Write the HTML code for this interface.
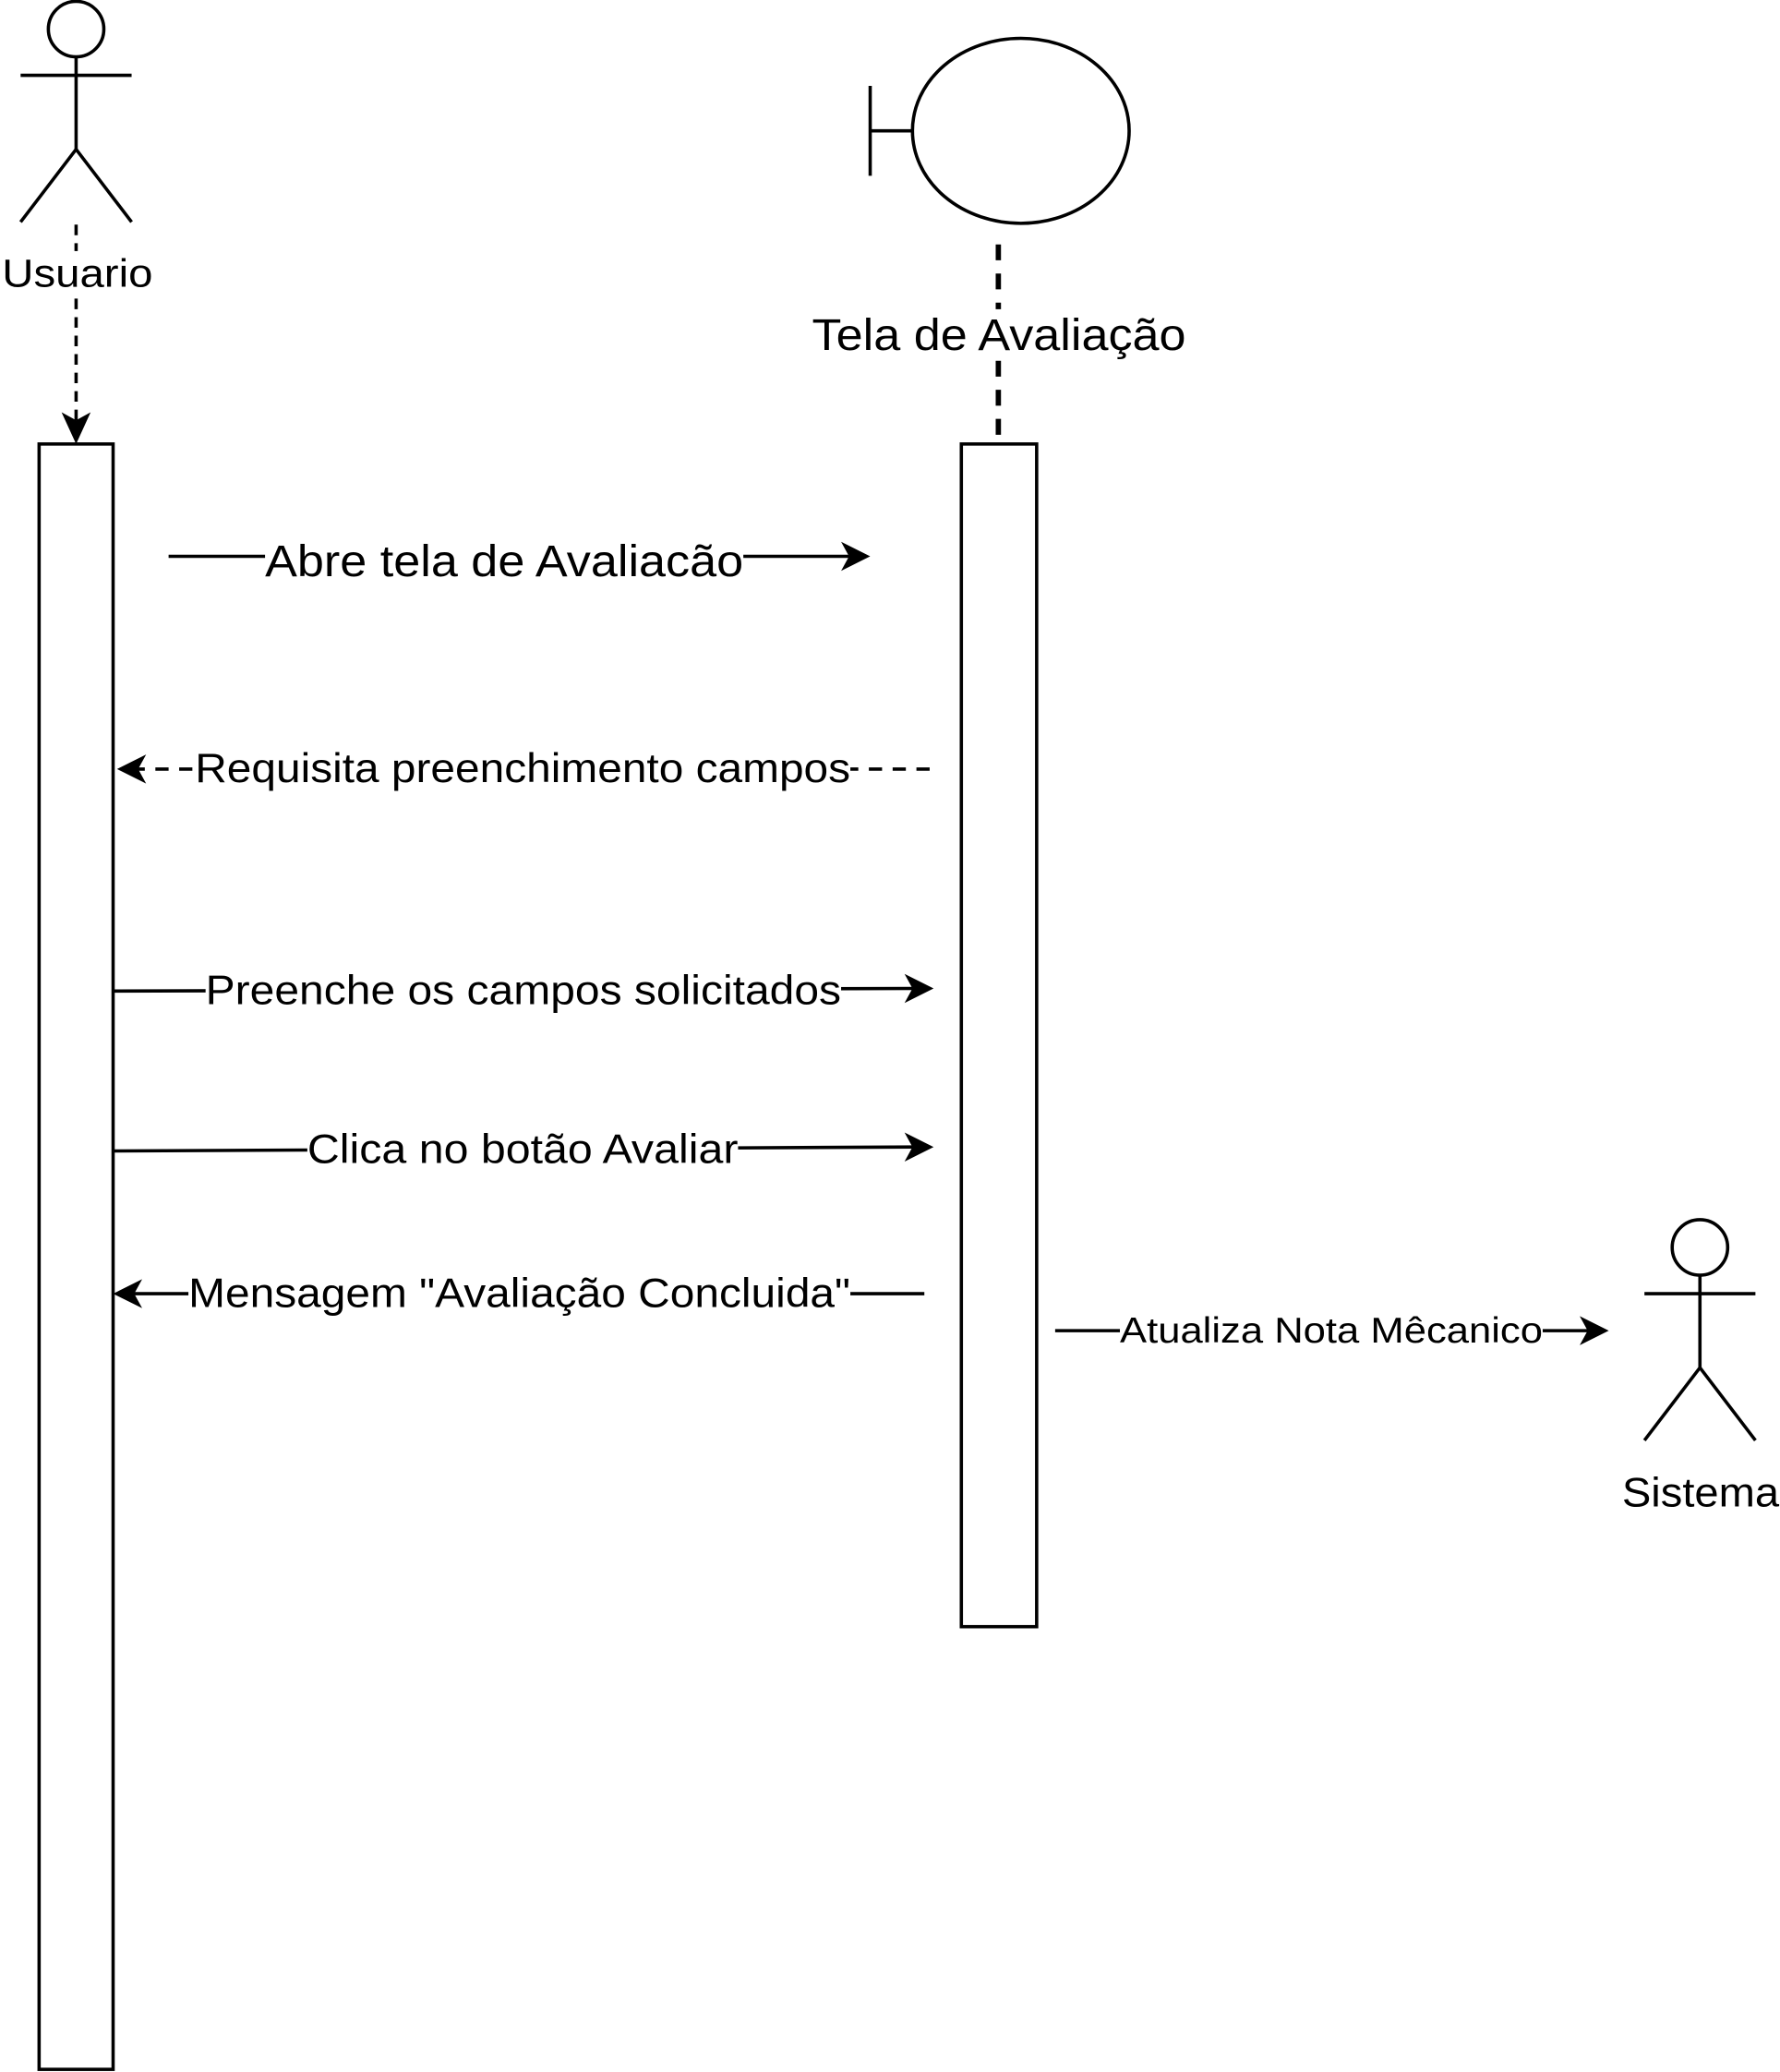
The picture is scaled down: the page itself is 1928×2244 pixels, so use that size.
<!DOCTYPE html>
<html><head><meta charset="utf-8"><style>
html,body{margin:0;padding:0;background:#fff;}
svg{display:block;}
text{font-family:"Liberation Sans",sans-serif;fill:#000;}
</style></head><body>
<svg width="1928" height="2244" viewBox="0 0 1346 1568" xmlns="http://www.w3.org/2000/svg">
<g stroke="#000" stroke-width="2.5" fill="none">
<circle cx="57" cy="22" r="21" fill="#fff"/>
<line x1="57" y1="43" x2="57" y2="113"/>
<line x1="15" y1="57" x2="99" y2="57"/>
<line x1="57" y1="113" x2="15" y2="168"/>
<line x1="57" y1="113" x2="99" y2="168"/>
<line x1="57" y1="170" x2="57" y2="320" stroke-dasharray="8,6"/>
<rect x="29" y="336" width="56" height="1230" fill="#fff"/>
<line x1="658" y1="65" x2="658" y2="133"/>
<line x1="658" y1="99" x2="690" y2="99"/>
<ellipse cx="772" cy="99" rx="82" ry="70" fill="#fff"/>
<line x1="755" y1="185" x2="755" y2="336" stroke-width="4" stroke-dasharray="12,10"/>
<rect x="727" y="336" width="57" height="895" fill="#fff"/>
<circle cx="1286" cy="944" r="21" fill="#fff"/>
<line x1="1286" y1="965" x2="1286" y2="1035"/>
<line x1="1244" y1="979" x2="1328" y2="979"/>
<line x1="1286" y1="1035" x2="1244" y2="1090"/>
<line x1="1286" y1="1035" x2="1328" y2="1090"/>
<line x1="127" y1="421" x2="645" y2="421"/>
<line x1="703" y1="582" x2="100" y2="582" stroke-dasharray="10,8"/>
<line x1="85" y1="750" x2="693" y2="748"/>
<line x1="85" y1="871" x2="693" y2="868"/>
<line x1="699" y1="979" x2="97" y2="979"/>
<line x1="798" y1="1007" x2="1204" y2="1007"/>
</g>
<g fill="#000">
<path d="M57,336 L46,312 L57,318 L68,312 Z"/>
<path d="M658,421 L636,410 L642,421 L636,432 Z"/>
<path d="M88,582 L110,571 L104,582 L110,593 Z"/>
<path d="M706,748 L684,737 L690,748 L684,759 Z"/>
<path d="M706,868 L684,857 L690,868 L684,879 Z"/>
<path d="M85,979 L107,968 L101,979 L107,990 Z"/>
<path d="M1217,1007 L1195,996 L1201,1007 L1195,1018 Z"/>
</g>
<g>
<rect x="3" y="190" width="110" height="32" fill="#fff"/>
<text x="1" y="217" font-size="30" textLength="114" lengthAdjust="spacingAndGlyphs">Usuario</text>
<rect x="615" y="234" width="282" height="38" fill="#fff"/>
<text x="614" y="265" font-size="34" textLength="283" lengthAdjust="spacingAndGlyphs">Tela de Avaliação</text>
<rect x="200" y="403" width="362" height="38" fill="#fff"/>
<text x="200" y="436" font-size="34" textLength="362" lengthAdjust="spacingAndGlyphs">Abre tela de Avaliacão</text>
<rect x="147" y="564" width="496" height="36" fill="#fff"/>
<text x="147" y="592" font-size="31" textLength="496" lengthAdjust="spacingAndGlyphs">Requisita preenchimento campos</text>
<rect x="155" y="731" width="481" height="36" fill="#fff"/>
<text x="155" y="760" font-size="31" textLength="481" lengthAdjust="spacingAndGlyphs">Preenche os campos solicitados</text>
<rect x="232" y="851" width="326" height="36" fill="#fff"/>
<text x="232" y="880" font-size="31" textLength="326" lengthAdjust="spacingAndGlyphs">Clica no botão Avaliar</text>
<rect x="142" y="960" width="501" height="36" fill="#fff"/>
<text x="142" y="989" font-size="31" textLength="501" lengthAdjust="spacingAndGlyphs">Mensagem "Avaliação Concluida"</text>
<rect x="847" y="990" width="320" height="32" fill="#fff"/>
<text x="847" y="1016" font-size="27" textLength="320" lengthAdjust="spacingAndGlyphs">Atualiza Nota Mêcanico</text>
<text x="1227" y="1140" font-size="31" textLength="119" lengthAdjust="spacingAndGlyphs">Sistema</text>
</g>
</svg>
</body></html>
